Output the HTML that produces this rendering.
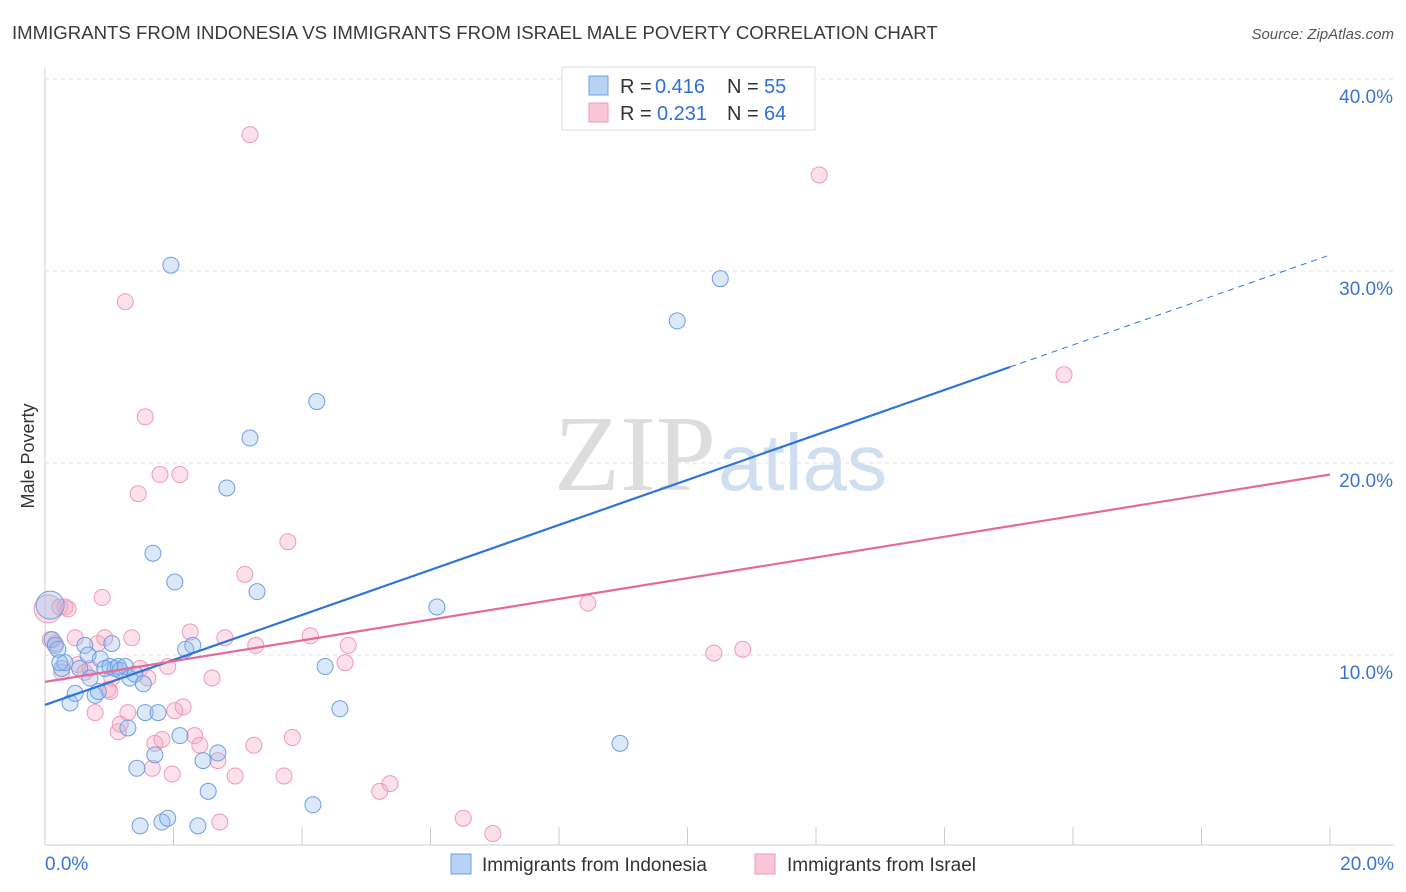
<!DOCTYPE html>
<html><head><meta charset="utf-8"><style>
body{margin:0;background:#fff;font-family:"Liberation Sans",sans-serif;}
#wrap{position:relative;width:1406px;height:892px;overflow:hidden;}
</style></head><body>
<div id="wrap">
<svg id="svg" width="1406" height="892" xmlns="http://www.w3.org/2000/svg">
<text x="12" y="39" font-size="18.6" fill="#3a3a3a">IMMIGRANTS FROM INDONESIA VS IMMIGRANTS FROM ISRAEL MALE POVERTY CORRELATION CHART</text>
<text x="1394" y="39" font-size="15" fill="#555" font-style="italic" text-anchor="end">Source: ZipAtlas.com</text>
<text x="34" y="456" font-size="18" fill="#333" text-anchor="middle" transform="rotate(-90 34 456)">Male Poverty</text>
<text x="716" y="490" font-size="108" fill="#ddd" text-anchor="end" font-family="Liberation Serif">ZIP</text>
<text x="718" y="490" font-size="80" fill="#cfdff0">atlas</text>
<g id="grid"></g><g id="pts"></g><g id="lines"></g>
<g>
<rect x="562" y="67" width="253" height="63" fill="#fff" stroke="#ddd"/>
<rect x="589" y="76" width="19" height="19" fill="#b7d2f5" stroke="#6f9fe0"/>
<rect x="589" y="103" width="19" height="19" fill="#f8c6d6" stroke="#ee9ab6"/>
<text x="620" y="93" font-size="20" fill="#333">R =</text><text x="655" y="93" font-size="20" fill="#2f6fd6">0.416</text>
<text x="727" y="93" font-size="20" fill="#333">N =</text><text x="764" y="93" font-size="20" fill="#2f6fd6">55</text>
<text x="620" y="120" font-size="20" fill="#333">R =</text><text x="657" y="120" font-size="20" fill="#2f6fd6">0.231</text>
<text x="727" y="120" font-size="20" fill="#333">N =</text><text x="764" y="120" font-size="20" fill="#2f6fd6">64</text>
</g>
<g>
<rect x="451" y="854" width="20" height="20" fill="#b7d2f5" stroke="#6f9fe0"/>
<text x="482" y="871" font-size="19" fill="#333">Immigrants from Indonesia</text>
<rect x="755" y="854" width="20" height="20" fill="#f8c6d6" stroke="#ee9ab6"/>
<text x="787" y="871" font-size="19" fill="#333">Immigrants from Israel</text>
</g>
</svg></div>
<script>
const yTicks=[10,20,30,40];
const xTickLabels=["0.0%","20.0%"];
const blueX=[0.08,0.11,0.16,0.2,0.26,0.31,0.39,0.47,0.54,0.62,0.67,0.7,0.78,0.83,0.86,0.93,1.01,1.04,1.09,1.14,1.17,1.25,1.29,1.32,1.4,1.43,1.48,1.53,1.56,1.68,1.71,1.76,1.82,1.91,1.96,2.02,2.1,2.19,2.3,2.38,2.46,2.54,2.69,2.83,3.19,3.3,4.17,4.23,4.36,4.59,6.1,8.95,9.84,10.51,0.23];
const blueY=[12.6,10.8,10.5,10.3,9.3,9.6,7.5,8.0,9.3,10.5,10.0,8.8,7.9,8.1,9.8,9.3,9.4,10.6,9.3,9.4,9.2,9.4,6.2,8.8,9.0,4.1,1.1,8.5,7.0,15.3,4.8,7.0,1.3,1.5,30.3,13.8,5.8,10.3,10.5,1.1,4.5,2.9,4.9,18.7,21.3,13.3,2.2,23.2,9.4,7.2,12.5,5.4,27.4,29.6,9.6];
const pinkX=[0.05,0.08,0.16,0.23,0.31,0.26,0.36,0.47,0.51,0.62,0.7,0.78,0.82,0.89,0.93,0.98,1.01,1.04,1.14,1.17,1.25,1.29,1.35,1.48,1.45,1.56,1.6,1.67,1.71,1.79,1.82,1.91,1.98,2.02,2.1,2.15,2.26,2.33,2.41,2.6,2.69,2.72,2.8,2.96,3.11,3.19,3.25,3.28,3.72,3.78,3.85,4.13,4.67,4.72,5.21,5.37,6.51,6.97,8.45,10.41,10.86,12.05,15.86];
const pinkY=[12.4,10.8,10.6,12.5,12.5,9.1,12.4,10.9,9.5,9.1,9.3,7.0,10.6,13.0,10.9,8.2,8.1,8.8,6.0,6.4,28.4,7.0,10.9,9.3,18.4,22.4,8.8,4.1,5.4,19.4,5.6,9.4,3.8,7.1,19.4,7.3,11.2,5.8,5.3,8.8,4.5,1.3,10.9,3.7,14.2,37.1,5.3,10.5,3.7,15.9,5.7,11.0,9.6,10.5,2.9,3.3,1.5,0.7,12.7,10.1,10.3,35.0,24.6];
const bigBlue=[0], bigPink=[0];
const sx=v=>45+v/20*1285, sy=v=>847-v*19.2;
const NS="http://www.w3.org/2000/svg";
function mk(t,a,p){const e=document.createElementNS(NS,t);for(const k in a)e.setAttribute(k,a[k]);p.appendChild(e);return e;}
const g=document.getElementById('grid');
yTicks.forEach(v=>{
 const l=mk('line',{x1:45,x2:1394,y1:sy(v),y2:sy(v),stroke:'#e2e2e2','stroke-dasharray':'4 4'},g);
 
 
 const t=mk('text',{x:1393,y:sy(v)+24,'font-size':19,fill:'#3a74d0','text-anchor':'end'},g);
 t.textContent=v.toFixed(1)+'%';
 
 
});
mk('line',{x1:45,x2:45,y1:68,y2:845,stroke:'#ccc'},g);
mk('line',{x1:45,x2:1394,y1:845,y2:845,stroke:'#ccc'},g);
for(let i=1;i<=10;i++){const x=sx(i*2);mk('line',{x1:x,x2:x,y1:827,y2:845,stroke:'#ccc'},g);}
[0,20].forEach((v,i)=>{const t=mk('text',{x:i?1394:45,y:870,'font-size':19,fill:'#3a74d0','text-anchor':i?'end':'start'},g);
 t.textContent=xTickLabels[i];
 
 });
const p=document.getElementById('pts');
pinkX.forEach((x,i)=>{const c=mk('circle',{cx:sx(x),cy:sy(pinkY[i]),r:bigPink.includes(i)?14:8,fill:'rgba(245,170,195,0.35)',stroke:'#ee9ab6','stroke-width':1},p);
 
 });
blueX.forEach((x,i)=>{const c=mk('circle',{cx:sx(x),cy:sy(blueY[i]),r:bigBlue.includes(i)?14:8,fill:'rgba(150,190,240,0.35)',stroke:'#6f9fe0','stroke-width':1},p);
 
 });
const L=document.getElementById('lines');
const b0=7.4,b1=(25.0-7.4)/15.02, p0=8.6,p1=(19.4-8.6)/20;
let e=mk('line',{x1:sx(0),y1:sy(b0),x2:sx(15.02),y2:sy(b0+b1*15.02),stroke:'#2f74d8','stroke-width':2.2},L);


e=mk('line',{x1:sx(15.02),y1:sy(b0+b1*15.02),x2:sx(20),y2:sy(b0+b1*20),stroke:'#2f74d8','stroke-width':1,'stroke-dasharray':'6 5'},L);


e=mk('line',{x1:sx(0),y1:sy(p0),x2:sx(20),y2:sy(p0+p1*20),stroke:'#e46a98','stroke-width':2.2},L);


</script>
</body></html>
